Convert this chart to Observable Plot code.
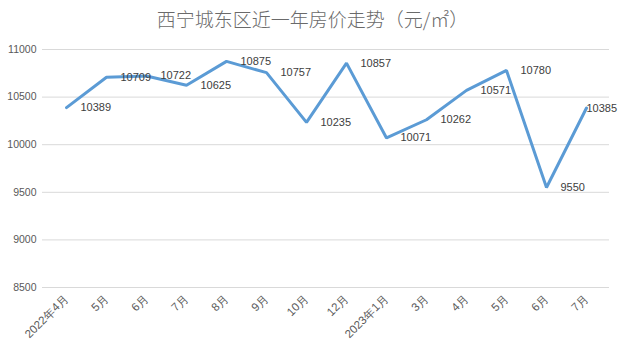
<!DOCTYPE html>
<html>
<head>
<meta charset="utf-8">
<script src="https://cdn.jsdelivr.net/npm/d3@7"></script>
<script src="https://cdn.jsdelivr.net/npm/@observablehq/plot@0.6"></script>
<style>
  html, body { margin: 0; padding: 0; background: #fff; }
  #wrap { width: 625px; height: 352px; overflow: hidden; }
  #title { height: 38px; line-height: 38px; text-align: center; font-family: "Noto Sans CJK SC", sans-serif; font-weight: 300; font-size: 19px; color: #6a6a6a; box-sizing: border-box; }
</style>
</head>
<body>
<div id="wrap">
  <div id="title">西宁城东区近一年房价走势（元/㎡）</div>
  <div id="chart"></div>
</div>
<script>
const months = ["2022年4月", "5月", "6月", "7月", "8月", "9月", "10月", "12月", "2023年1月", "3月", "4月", "5月", "6月", "7月"];
const prices = [10389, 10709, 10722, 10625, 10875, 10757, 10235, 10857, 10071, 10262, 10571, 10780, 9550, 10385];
const yTicks = [8500, 9000, 9500, 10000, 10500, 11000];

const keys = months.map((m, i) => i + "|" + m);
const data = keys.map((k, i) => ({ key: k, label: months[i], price: prices[i] }));
const last = data.length - 1;

const chart = Plot.plot({
  width: 625,
  height: 314,
  marginTop: 11,
  marginBottom: 65,
  marginLeft: 42,
  marginRight: 16,
  style: { fontFamily: "'Liberation Sans', sans-serif", background: "#fff", color: "#595959" },
  x: { type: "point", domain: keys, padding: 0.5, label: null },
  y: { domain: [8500, 11000], label: null },
  marks: [
    Plot.ruleY(yTicks, { stroke: "#d9d9d9", strokeWidth: 1 }),
    Plot.axisY({ ticks: yTicks, tickFormat: d3.format("d"), tickSize: 0, tickPadding: 6, fontSize: 10.5, fill: "#595959", label: null }),
    Plot.axisX({ tickSize: 0, tickPadding: 9, tickRotate: -45, fontSize: 11.5, fill: "#595959", label: null, tickFormat: d => d.split("|")[1] }),
    Plot.line(data, { x: "key", y: "price", stroke: "#5B9BD5", strokeWidth: 3, strokeLinejoin: "miter" }),
    Plot.text(data.filter((d, i) => i !== last), { x: "key", y: "price", text: d => String(d.price), textAnchor: "start", dx: 14, fontSize: 11, fill: "#404040" }),
    Plot.text(data.filter((d, i) => i === last), { x: "key", y: "price", text: d => String(d.price), textAnchor: "start", dx: 0, fontSize: 11, fill: "#404040" })
  ]
});
document.getElementById("chart").appendChild(chart);
</script>
</body>
</html>
